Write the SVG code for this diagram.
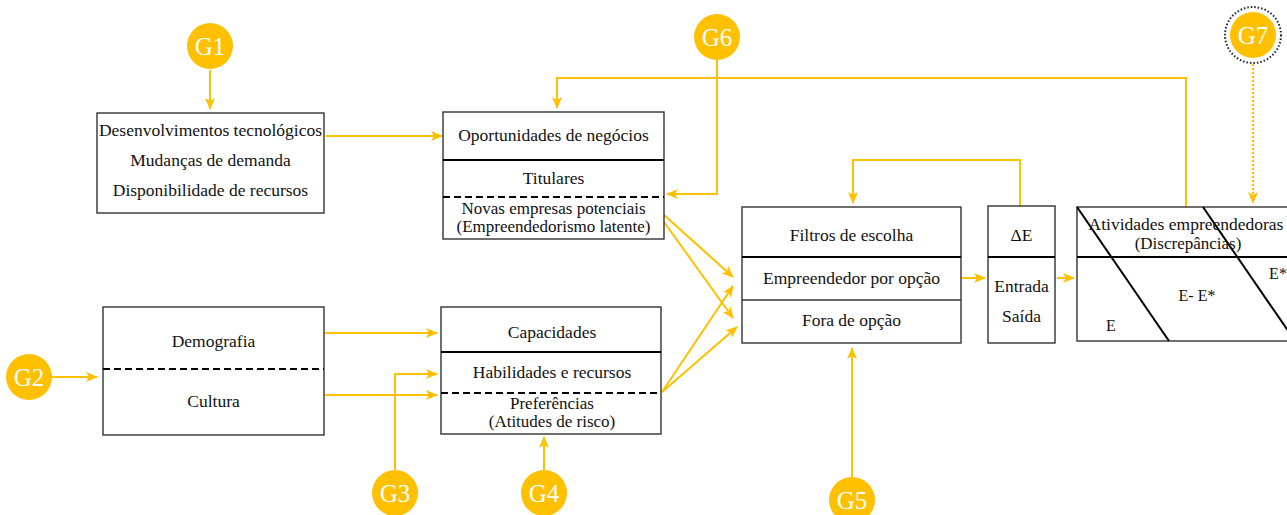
<svg xmlns="http://www.w3.org/2000/svg" width="1287" height="515" viewBox="0 0 1287 515">
<defs>
<marker id="ah" viewBox="0 0 12 10" refX="11" refY="5" markerWidth="12" markerHeight="10" markerUnits="userSpaceOnUse" orient="auto">
<path d="M0,0 L12,5 L0,10 L3,5 z" fill="#FFC000"/>
</marker>
<style>
.box{fill:#fff;stroke:#333;stroke-width:1.4}
.sep{stroke:#000;stroke-width:2}
.dash{stroke:#000;stroke-width:2;stroke-dasharray:7,4}
.t{font-family:"Liberation Serif","DejaVu Serif",serif;font-size:17.5px;fill:#111;text-anchor:middle}
.t2{font-size:17px}
.c{fill:#FFC000}
.ct{font-family:"Liberation Serif","DejaVu Serif",serif;font-size:25px;fill:#fff;text-anchor:middle}
.ln{fill:none;stroke:#FFC000;stroke-width:2;marker-end:url(#ah)}
</style>
</defs>
<rect width="1287" height="515" fill="#fff"/>

<g id="connectors">
<path class="ln" d="M210,70 V109"/>
<path class="ln" d="M326,136 L442,136"/>
<path class="ln" d="M1186,207 V78 H557 V108"/>
<path class="ln" d="M717,60 V194 H667"/>
<path class="ln" d="M1020,206 V160 H853 V203"/>
<path class="ln" d="M1253,64 V203" style="stroke-dasharray:2,2"/>
<path class="ln" d="M962,278 H985"/>
<path class="ln" d="M1057,278 H1074"/>
<path class="ln" d="M664,215 L733,277"/>
<path class="ln" d="M664,222 L733,318"/>
<path class="ln" d="M662,392 L733,286"/>
<path class="ln" d="M662,392 L737,327"/>
<path class="ln" d="M52,377 H97"/>
<path class="ln" d="M325,333 H437"/>
<path class="ln" d="M325,395 H437"/>
<path class="ln" d="M395,470 V374 H437"/>
<path class="ln" d="M544,470 V437"/>
<path class="ln" d="M852,477 V348"/>
</g>

<g id="box-fatores">
<rect class="box" x="97" y="113" width="227" height="100"/>
<text class="t" x="210.5" y="136">Desenvolvimentos tecnológicos</text>
<text class="t" x="210.5" y="166">Mudanças de demanda</text>
<text class="t" x="210.5" y="196">Disponibilidade de recursos</text>
</g>

<g id="box-oportunidades">
<rect class="box" x="443" y="112" width="221" height="127"/>
<line class="sep" x1="443" y1="160" x2="664" y2="160"/>
<line class="dash" x1="443" y1="197" x2="664" y2="197"/>
<text class="t" x="553.5" y="141">Oportunidades de negócios</text>
<text class="t" x="553.5" y="184">Titulares</text>
<text class="t t2" x="553.5" y="214">Novas empresas potenciais</text>
<text class="t t2" x="553.5" y="232">(Empreendedorismo latente)</text>
</g>

<g id="box-demografia">
<rect class="box" x="103" y="307" width="221" height="128"/>
<line class="dash" x1="103" y1="369" x2="324" y2="369"/>
<text class="t" x="213.5" y="347">Demografia</text>
<text class="t" x="213.5" y="407">Cultura</text>
</g>

<g id="box-capacidades">
<rect class="box" x="441" y="307" width="220" height="127"/>
<line class="sep" x1="441" y1="352" x2="661" y2="352"/>
<line class="dash" x1="441" y1="393" x2="661" y2="393"/>
<text class="t" x="552" y="338">Capacidades</text>
<text class="t" x="552" y="378">Habilidades e recursos</text>
<text class="t t2" x="552" y="409">Preferências</text>
<text class="t t2" x="552" y="427">(Atitudes de risco)</text>
</g>

<g id="box-filtros">
<rect class="box" x="742" y="207" width="219" height="136"/>
<line class="sep" x1="742" y1="257" x2="961" y2="257"/>
<line x1="742" y1="300" x2="961" y2="300" stroke="#333" stroke-width="1.4"/>
<text class="t" x="851.5" y="241">Filtros de escolha</text>
<text class="t" x="851.5" y="284">Empreendedor por opção</text>
<text class="t" x="851.5" y="326">Fora de opção</text>
</g>

<g id="box-deltaE">
<rect class="box" x="988" y="206" width="67" height="137"/>
<line class="sep" x1="988" y1="257" x2="1055" y2="257"/>
<text class="t" x="1021.5" y="241">ΔE</text>
<text class="t" x="1021.5" y="292">Entrada</text>
<text class="t" x="1021.5" y="322">Saída</text>
</g>

<g id="box-atividades">
<rect class="box" x="1077" y="207" width="220" height="134"/>
<line class="sep" x1="1077" y1="257" x2="1287" y2="257"/>
<line x1="1077" y1="207" x2="1169" y2="341" stroke="#000" stroke-width="2"/>
<line x1="1203" y1="207" x2="1295" y2="341" stroke="#000" stroke-width="2"/>
<text class="t" x="1186" y="230">Atividades empreendedoras</text>
<text class="t t2" x="1188" y="249">(Discrepâncias)</text>
<text class="t" x="1278" y="279" style="font-size:16px">E*</text>
<text class="t" x="1197" y="301" style="font-size:16px">E- E*</text>
<text class="t" x="1111" y="331" style="font-size:16px">E</text>
</g>

<g id="G1"><circle class="c" cx="210" cy="46" r="23"/><text class="ct" x="210" y="55">G1</text></g>
<g id="G2"><circle class="c" cx="29" cy="377" r="23"/><text class="ct" x="29" y="386">G2</text></g>
<g id="G3"><circle class="c" cx="395" cy="493" r="23"/><text class="ct" x="395" y="502">G3</text></g>
<g id="G4"><circle class="c" cx="544" cy="493" r="23"/><text class="ct" x="544" y="502">G4</text></g>
<g id="G5"><circle class="c" cx="852" cy="500" r="23"/><text class="ct" x="852" y="509">G5</text></g>
<g id="G6"><circle class="c" cx="717" cy="37" r="23"/><text class="ct" x="717" y="46">G6</text></g>
<g id="G7"><circle cx="1253" cy="35" r="28" fill="none" stroke="#222" stroke-width="2" stroke-dasharray="1.5,2"/><circle class="c" cx="1253" cy="35" r="23"/><text class="ct" x="1253" y="44">G7</text></g>
</svg>
